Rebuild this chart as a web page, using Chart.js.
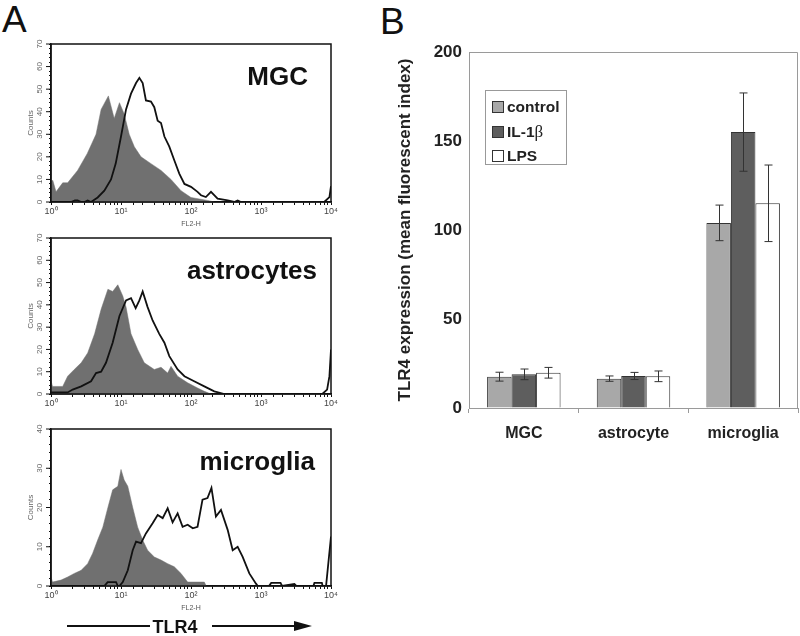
<!DOCTYPE html>
<html>
<head>
<meta charset="utf-8">
<script src="https://cdn.jsdelivr.net/npm/chart.js@4.4.0/dist/chart.umd.min.js"></script>
<style>
  body { margin: 0; width: 800px; height: 636px; position: relative; overflow: hidden; background: #fff; font-family: Arial, 'Liberation Sans', sans-serif; }
  canvas { position: absolute; }
  .panel { position: absolute; font-size: 37px; color: #111; line-height: 1; }
  #legend { position: absolute; left: 485px; top: 90px; width: 80px; height: 73px; border: 1px solid #999; background: #fff; }
  #legend .item { position: absolute; left: 6px; height: 20px; font-weight: bold; font-size: 15.5px; color: #222; line-height: 20px; }
  #legend .sw { position: absolute; left: 0; top: 4px; width: 10px; height: 10px; border: 1px solid #333; }
  #legend .txt { position: absolute; left: 15px; top: 0; white-space: nowrap; }
  #legend .beta { font-family: 'Liberation Serif', 'DejaVu Serif', serif; font-weight: normal; font-size: 17px; }
</style>
</head>
<body>
<div class="panel" style="left:2px;top:1px;">A</div>
<div class="panel" style="left:380px;top:3px;">B</div>

<canvas id="histMgc" width="345" height="198" style="left:0;top:30px;"></canvas>
<canvas id="histAstro" width="345" height="195" style="left:0;top:225px;"></canvas>
<canvas id="histMicro" width="345" height="197" style="left:0;top:415px;"></canvas>
<canvas id="bars" width="420" height="420" style="left:380px;top:30px;"></canvas>
<div id="legend"></div>

<svg style="position:absolute;left:0;top:612px;" width="350" height="24">
  <line x1="67" y1="14" x2="150" y2="14" stroke="#111" stroke-width="2"/>
  <line x1="212" y1="14" x2="298" y2="14" stroke="#111" stroke-width="2"/>
  <polygon points="294,9 312,14 294,19" fill="#111"/>
  <text x="175" y="21" text-anchor="middle" font-family="Arial, 'Liberation Sans', sans-serif" font-weight="bold" font-size="18" fill="#111">TLR4</text>
</svg>

<script>
// ---- panel A: flow histograms, [FL2-H, counts] ----
const mgcControl = [[1,9],[1.06,9.6],[1.18,4.5],[1.47,8.5],[1.73,8.5],[2.4,14],[3.3,21.5],[4.4,30],[5.2,41],[6.6,47],[8.0,37],[9.5,44],[11.1,39],[13.1,30],[15.5,24.5],[19.3,20],[26.8,17],[37.3,14],[51.8,10],[72,5],[100,2],[172,0.7],[215,0]];
const mgcTlr4 = [[1,0],[1.93,0],[2.2,0.7],[2.4,0.7],[2.7,0],[3.0,0],[3.34,0.7],[3.73,0],[4.64,2],[5.78,5],[7.2,10],[8.4,17],[10,29],[11.8,41],[13.9,48],[16.4,52.7],[18.3,55],[20.4,52.7],[22.7,45],[26.8,44.5],[29.9,42],[33.4,36],[37.3,35],[41.7,29],[49,24.5],[57.7,18.5],[68,12.6],[80.6,8],[100,6.7],[124,4.5],[139,3],[163,2.2],[193,4.5],[240,1.5],[334,0.7],[415,0],[464,0.7],[518,0],[8000,0],[9500,2.2],[10000,7]];

const astroControl = [[1,6],[1.05,3.4],[1.47,3.4],[1.73,8],[2.15,11],[2.7,14],[3.34,18.4],[4.2,27],[5.2,38],[6.5,47],[7.6,46],[9.0,49],[10.6,44],[11.8,39],[13.9,27],[17.3,20],[21.5,14],[29.9,11],[37.3,12],[46.4,9.4],[51.8,12.4],[64.4,8],[89.6,5],[124,2.7],[155,1.2],[193,0]];
const astroTlr4 = [[1,0.7],[1.73,0.7],[2.04,2],[2.7,3.4],[3.73,5.7],[4.4,9.4],[5.2,10],[6.1,14],[7.6,23],[9.5,35],[11.8,42],[13.9,43],[16.2,38.5],[18.3,42],[20.4,46],[24,39],[28.3,33],[35.2,27],[41.7,23],[49,17],[64.4,11],[80.6,8],[111,5.7],[155,3.4],[215,1.2],[300,0],[7500,0],[8800,2],[9500,8],[10000,20]];

const microControl = [[1,2.3],[1.05,1],[1.39,1.5],[1.73,2.3],[2.15,3.2],[2.7,4],[3.34,5.7],[3.93,8.3],[4.64,11.7],[5.5,15],[6.5,20],[7.6,24.5],[9.0,25.4],[10,29.7],[11.1,27],[12.5,25.4],[14.7,20],[17.3,15],[20.4,11.7],[24,9.1],[29.9,7.4],[37.3,6.6],[46.4,5.7],[57.7,4.9],[72,3.2],[89.6,1],[155,1],[165,0]];
const microTlr4 = [[1,0],[5.78,0],[6.45,1],[8.5,1],[9.0,0],[9.5,0],[10.6,1],[12.5,4],[14.7,9.1],[16.4,11.3],[19.3,10.9],[22.7,13.4],[28.3,16],[33.4,18.1],[39.4,17.3],[46.4,19.8],[54.6,16.2],[64.4,18.5],[75.9,15.1],[89.6,15.6],[106,14.7],[124,15.1],[146,22],[172,22.4],[196,25],[227,17.7],[268,19.4],[334,14.3],[394,9.1],[464,10],[547,7.4],[681,3.2],[848,0.6],[898,0],[1300,0],[1400,0.8],[1900,0.8],[2000,0],[3000,0.5],[3200,0],[5600,0],[5800,0.8],[7400,0.8],[7600,0],[8500,0],[10000,12.6]];

// ---- panel B: bar chart ----
const cellTypes = ['MGC', 'astrocyte', 'microglia'];
const controlMfi = [17.6, 16.5, 104];
const il1bMfi = [18.9, 18, 155];
const lpsMfi = [19.8, 17.8, 115];
const controlErr = [2.5, 1.5, 10];
const il1bErr = [3, 2, 22];
const lpsErr = [3, 3, 21.5];
const mfiTicks = [0, 50, 100, 150, 200];

const sup = ['\u2070', '\u00b9', '\u00b2', '\u00b3', '\u2074'];
const toPts = arr => arr.map(p => ({ x: p[0], y: p[1] }));

/* frame, rotated y labels, 'Counts' and the cell-type label */
const histDecor = {
  id: 'histDecor',
  afterDraw(chart, args, opts) {
    const { ctx, chartArea: a, scales: { y } } = chart;
    ctx.save();
    ctx.strokeStyle = '#111';
    ctx.lineWidth = 1.5;
    ctx.strokeRect(a.left, a.top, a.right - a.left, a.bottom - a.top);

    ctx.fillStyle = '#666';
    ctx.font = '8px Arial, "Liberation Sans", sans-serif';
    ctx.textAlign = 'center';
    ctx.textBaseline = 'middle';
    for (let v = 0; v <= opts.yMax; v += 10) {
      const py = y.getPixelForValue(v);
      ctx.save();
      ctx.translate(40, py);
      ctx.rotate(-Math.PI / 2);
      ctx.fillText(String(v), 0, 0);
      ctx.restore();
      // longer tick at each 10
      ctx.beginPath();
      ctx.strokeStyle = '#111';
      ctx.lineWidth = 1;
      ctx.moveTo(a.left - 5, py);
      ctx.lineTo(a.left, py);
      ctx.stroke();
    }
    ctx.save();
    ctx.translate(31, (a.top + a.bottom) / 2);
    ctx.rotate(-Math.PI / 2);
    ctx.fillText('Counts', 0, 0);
    ctx.restore();

    ctx.fillStyle = '#111';
    ctx.font = 'bold 26px Arial, "Liberation Sans", sans-serif';
    ctx.textAlign = 'right';
    ctx.textBaseline = 'alphabetic';
    ctx.fillText(opts.label, a.right - opts.dx, a.top + opts.dy);
    ctx.restore();
  }
};

function makeHist(id, control, tlr4, yMax, label, dx, showTitle) {
  return new Chart(document.getElementById(id), {
    type: 'line',
    data: {
      datasets: [
        { data: toPts(tlr4), borderColor: '#111', borderWidth: 1.8, fill: false, order: 0 },
        { data: toPts(control), borderColor: '#707070', borderWidth: 0.5, backgroundColor: '#707070', fill: 'origin', order: 1 }
      ]
    },
    options: {
      responsive: false,
      animation: false,
      layout: { padding: { top: id === 'histAstro' ? 13 : 14, right: 14, left: 0, bottom: 0 } },
      elements: { point: { radius: 0 }, line: { tension: 0 } },
      plugins: {
        legend: { display: false },
        tooltip: { enabled: false },
        histDecor: { yMax: yMax, label: label, dx: dx, dy: 41 }
      },
      scales: {
        x: {
          type: 'logarithmic',
          min: 1,
          max: 10000,
          afterFit: s => { s.height = 26; },
          grid: { drawOnChartArea: false, tickLength: 3, color: '#111' },
          border: { color: '#111', width: 1.5 },
          ticks: {
            autoSkip: false,
            maxRotation: 0,
            padding: 1,
            color: '#444',
            font: { size: 9, family: 'Arial, "Liberation Sans", sans-serif' },
            callback: v => {
              const e = Math.log10(v);
              return Math.abs(e - Math.round(e)) < 1e-6 ? '10' + sup[Math.round(e)] : '';
            }
          },
          title: { display: showTitle, text: 'FL2-H', color: '#555', padding: 0, font: { size: 7, family: 'Arial, "Liberation Sans", sans-serif' } }
        },
        y: {
          min: 0,
          max: yMax,
          afterFit: s => { s.width = 51; },
          grid: { drawOnChartArea: false, tickLength: 2, color: '#111' },
          border: { color: '#111', width: 1.5 },
          ticks: { display: false, stepSize: 2 }
        }
      }
    },
    plugins: [histDecor]
  });
}

makeHist('histMgc', mgcControl, mgcTlr4, 70, 'MGC', 23, true);
makeHist('histAstro', astroControl, astroTlr4, 70, 'astrocytes', 14, false);
makeHist('histMicro', microControl, microTlr4, 40, 'microglia', 16, true);

/* error bars and top/right frame of the bar chart */
const barDecor = {
  id: 'barDecor',
  afterDatasetsDraw(chart) {
    const { ctx, chartArea: a, scales: { y } } = chart;
    ctx.save();
    ctx.strokeStyle = '#333';
    ctx.lineWidth = 1;
    chart.data.datasets.forEach((ds, i) => {
      chart.getDatasetMeta(i).data.forEach((bar, j) => {
        const hi = y.getPixelForValue(ds.data[j] + ds.errors[j]);
        const lo = y.getPixelForValue(ds.data[j] - ds.errors[j]);
        const x = Math.round(bar.x) + 0.5;
        ctx.beginPath();
        ctx.moveTo(x, hi); ctx.lineTo(x, lo);
        ctx.moveTo(x - 4, hi); ctx.lineTo(x + 4, hi);
        ctx.moveTo(x - 4, lo); ctx.lineTo(x + 4, lo);
        ctx.stroke();
      });
    });
    ctx.strokeStyle = '#9a9a9a';
    ctx.beginPath();
    ctx.moveTo(a.left, a.top + 0.5); ctx.lineTo(a.right - 0.5, a.top + 0.5); ctx.lineTo(a.right - 0.5, a.bottom);
    ctx.stroke();
    ctx.restore();
  }
};

const series = [
  { label: 'control', data: controlMfi, errors: controlErr, color: '#a8a8a8' },
  { label: 'IL-1\u03b2', data: il1bMfi, errors: il1bErr, color: '#5e5e5e' },
  { label: 'LPS', data: lpsMfi, errors: lpsErr, color: '#ffffff' }
];

new Chart(document.getElementById('bars'), {
  type: 'bar',
  data: {
    labels: cellTypes,
    datasets: series.map(s => ({
      label: s.label,
      data: s.data,
      errors: s.errors,
      backgroundColor: s.color,
      borderColor: '#333',
      borderWidth: 1,
      categoryPercentage: 0.67,
      barPercentage: 1.0
    }))
  },
  options: {
    responsive: false,
    animation: false,
    layout: { padding: { top: 22, right: 2, left: 0, bottom: 0 } },
    plugins: { legend: { display: false }, tooltip: { enabled: false } },
    scales: {
      x: {
        afterFit: s => { s.height = 42; },
        grid: { drawOnChartArea: false, tickLength: 5, color: '#9a9a9a' },
        border: { color: '#9a9a9a' },
        ticks: { padding: 11, color: '#222', font: { size: 16, weight: 'bold', family: 'Arial, "Liberation Sans", sans-serif' } }
      },
      y: {
        min: 0,
        max: 200,
        afterFit: s => { s.width = 89; },
        afterBuildTicks: s => { s.ticks = mfiTicks.map(v => ({ value: v })); },
        grid: { display: true, drawOnChartArea: false, drawTicks: false },
        border: { color: '#9a9a9a' },
        ticks: { padding: 7, color: '#222', font: { size: 17, weight: 'bold', family: 'Arial, "Liberation Sans", sans-serif' } },
        title: {
          display: true,
          text: 'TLR4 expression (mean fluorescent index)',
          color: '#222',
          padding: { top: 15, bottom: 0 },
          font: { size: 17, weight: 'bold', family: 'Arial, "Liberation Sans", sans-serif' }
        }
      }
    }
  },
  plugins: [barDecor]
});

// legend box
const legend = document.getElementById('legend');
series.forEach((s, i) => {
  const item = document.createElement('div');
  item.className = 'item';
  item.style.top = (6 + i * 24.5) + 'px';
  const txt = s.label.replace('\u03b2', '<span class="beta">\u03b2</span>');
  item.innerHTML = '<span class="sw" style="background:' + s.color + '"></span><span class="txt">' + txt + '</span>';
  legend.appendChild(item);
});
</script>
</body>
</html>
